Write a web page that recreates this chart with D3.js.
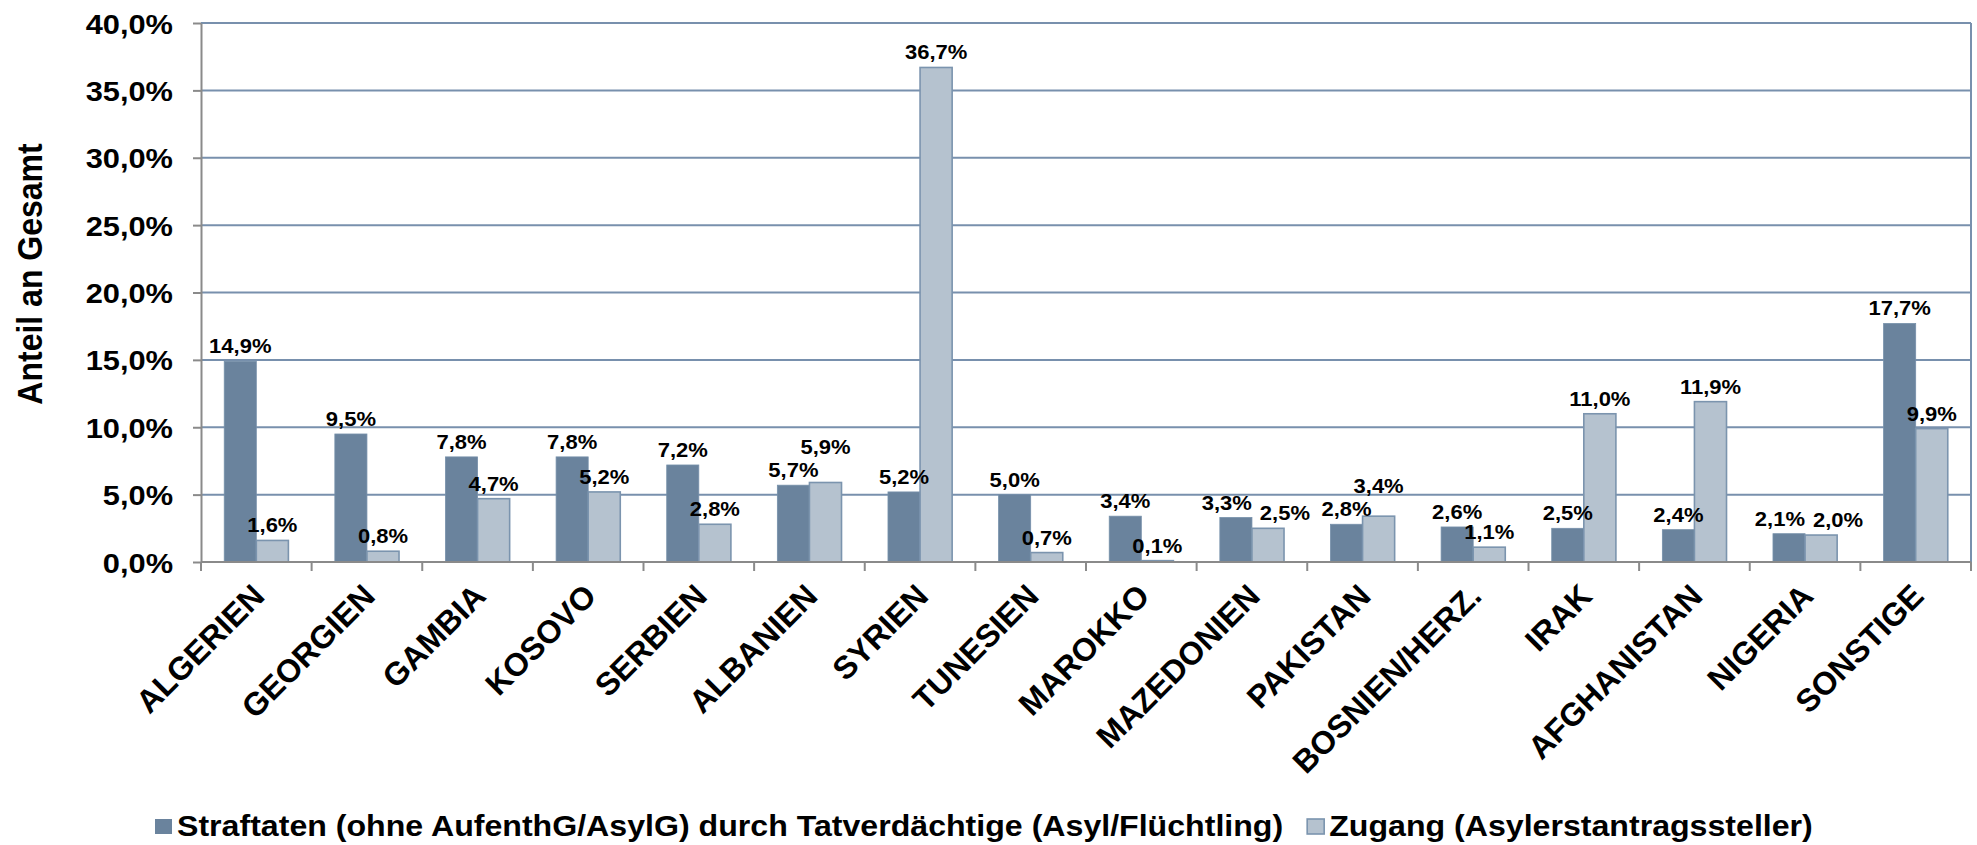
<!DOCTYPE html>
<html>
<head>
<meta charset="utf-8">
<script src="https://cdn.jsdelivr.net/npm/d3@7"></script>
<style>
	body { margin: 0; background: #fff; }
	text { font-family: "Liberation Sans", Arial, sans-serif; font-weight: bold; fill: #000; }
</style>
</head>
<body>
<div id="chart"></div>
<script>
// chart data
var categories = ["ALGERIEN", "GEORGIEN", "GAMBIA", "KOSOVO", "SERBIEN", "ALBANIEN", "SYRIEN", "TUNESIEN",
	"MAROKKO", "MAZEDONIEN", "PAKISTAN", "BOSNIEN/HERZ.", "IRAK", "AFGHANISTAN", "NIGERIA", "SONSTIGE"];
var straftaten = [14.9, 9.5, 7.8, 7.8, 7.2, 5.7, 5.2, 5.0, 3.4, 3.3, 2.8, 2.6, 2.5, 2.4, 2.1, 17.7];
var zugang = [1.6, 0.8, 4.7, 5.2, 2.8, 5.9, 36.7, 0.7, 0.1, 2.5, 3.4, 1.1, 11.0, 11.9, 2.0, 9.9];
var yTickValues = [0, 5, 10, 15, 20, 25, 30, 35, 40];
var seriesNames = ["Straftaten (ohne AufenthG/AsylG) durch Tatverdächtige (Asyl/Flüchtling)",
	"Zugang (Asylerstantragssteller)"];
var yTitle = "Anteil an Gesamt";

barchart();

function barchart() {
	var svg = d3.select("#chart")
		.append("svg")
		.attr("width", 1977)
		.attr("height", 845);
	var margin = {top: 23, right: 6, bottom: 283, left: 201},
		width = +svg.attr("width") - margin.left - margin.right,
		height = +svg.attr("height") - margin.top - margin.bottom,
		g = svg.append("g").attr("transform", "translate(" + margin.left + "," + margin.top + ")");

	// the original text is a little wider than the font, stretch it
	var SX = 1.1;
	var colors = ["#6a839d", "#b5c2cf"];
	var gridColor = "#7890ad",
		axisColor = "#8a8a8a";
	var series = [straftaten, zugang];
	var pct = function(v) { return d3.format(".1f")(v).replace(".", ",") + "%"; };

	// scales
	var x0 = d3.scaleBand().domain(categories).range([0, width]).paddingInner(0).paddingOuter(0);
	var x1 = d3.scaleBand().domain([0, 1])
		.range([x0.bandwidth() * 0.21, x0.bandwidth() * 0.79]);
	var y = d3.scaleLinear().domain([0, 40]).range([height, 0]);

	// gridlines
	g.selectAll(".grid")
		.data(yTickValues.filter(function(d) { return d > 0; }))
		.enter().append("line")
		.attr("class", "grid")
		.attr("x1", 0)
		.attr("x2", width)
		.attr("y1", function(d) { return y(d); })
		.attr("y2", function(d) { return y(d); })
		.style("stroke", gridColor)
		.style("stroke-width", 2);

	// right border of plot area
	g.append("line")
		.attr("x1", width).attr("x2", width)
		.attr("y1", y(40)).attr("y2", y(0))
		.style("stroke", gridColor)
		.style("stroke-width", 2);

	// bars
	var groups = g.selectAll(".group")
		.data(categories)
		.enter().append("g")
		.attr("class", "group")
		.attr("transform", function(d) { return "translate(" + x0(d) + ",0)"; });

	groups.selectAll("rect")
		.data(function(d, i) { return series.map(function(s, k) { return {k: k, v: s[i]}; }); })
		.enter().append("rect")
		.attr("x", function(d) { return x1(d.k); })
		.attr("width", x1.bandwidth())
		.attr("y", function(d) { return y(d.v); })
		.attr("height", function(d) { return y(0) - y(d.v); })
		.style("fill", function(d) { return colors[d.k]; })
		.style("stroke", function(d) { return d.k == 1 ? "#7b94ae" : "#7690aa"; })
		.style("stroke-width", function(d) { return d.k == 1 ? 1.6 : 0.8; });

	// y axis
	var yAxis = d3.axisLeft(y)
		.tickValues(yTickValues)
		.tickSize(8)
		.tickSizeOuter(0)
		.tickFormat(pct);

	var yg = g.append("g")
		.attr("class", "y axis")
		.call(yAxis);
	yg.attr("font-family", null).attr("font-size", null);
	yg.select(".domain").style("stroke", axisColor).style("stroke-width", 2);
	yg.selectAll(".tick line").style("stroke", axisColor).style("stroke-width", 2);
	yg.selectAll(".tick text")
		.attr("x", -28 / SX)
		.attr("dy", "0.36em")
		.attr("transform", "scale(" + SX + ",1)")
		.style("font-size", "28px");

	// x axis: line plus ticks at the category boundaries
	g.append("line")
		.attr("x1", 0).attr("x2", width)
		.attr("y1", height).attr("y2", height)
		.style("stroke", axisColor)
		.style("stroke-width", 2);

	g.selectAll(".xtick")
		.data(categories.map(function(c) { return x0(c); }).concat([x0.range()[1]]))
		.enter().append("line")
		.attr("class", "xtick")
		.attr("x1", function(d) { return d; })
		.attr("x2", function(d) { return d; })
		.attr("y1", height)
		.attr("y2", height + 9)
		.style("stroke", axisColor)
		.style("stroke-width", 2);

	// x labels, rotated
	g.selectAll(".xlabel")
		.data(categories)
		.enter().append("text")
		.attr("class", "xlabel")
		.attr("transform", function(d) {
			return "translate(" + (x0(d) + x0.bandwidth() / 2 + 10) + "," + (height + 36) + ") rotate(-45)";
		})
		.style("text-anchor", "end")
		.style("font-size", "32px")
		.text(function(d) { return d; });

	// y axis title
	svg.append("text")
		.attr("transform", "translate(42,274) scale(" + SX + ",1) rotate(-90)")
		.style("text-anchor", "middle")
		.style("font-size", "32px")
		.text(yTitle);

	// data labels
	var labelData = [];
	categories.forEach(function(c, i) {
		series.forEach(function(s, k) {
			labelData.push({i: i, k: k, v: s[i],
				x: x0(c) + x1(k) + x1.bandwidth() / 2,
				y: y(s[i]) - 8});
		});
	});

	var labels = g.selectAll(".bar-label")
		.data(labelData)
		.enter().append("text")
		.attr("class", "bar-label")
		.style("text-anchor", "middle")
		.style("font-size", "20px")
		.text(function(d) { return pct(d.v); });

	labels.each(function(d) { d.w = this.getComputedTextLength() * SX; });

	// keep neighbouring labels from running into each other
	var capH = 20 * 0.72;
	categories.forEach(function(c, i) {
		var a = labelData[2 * i], b = labelData[2 * i + 1];
		var overlapX = (a.x + a.w / 2 + 8) - (b.x - b.w / 2);
		if (overlapX > 0 && Math.abs(a.y - b.y) < capH + 4) {
			if (b.v > a.v) {
				b.y = a.y - capH - 9;
			} else {
				a.x -= overlapX * 0.35;
				b.x += overlapX * 0.65;
			}
		}
	});

	labels.attr("transform", function(d) {
		return "translate(" + d.x + "," + d.y + ") scale(" + SX + ",1)";
	});

	// legend
	var legend = svg.append("g").attr("class", "legend");
	var lx = 155;
	seriesNames.forEach(function(name, k) {
		legend.append("rect")
			.attr("x", lx)
			.attr("y", 819)
			.attr("width", 17)
			.attr("height", 15)
			.style("fill", colors[k])
			.style("stroke", k == 1 ? "#7b94ae" : "none")
			.style("stroke-width", 1.6);
		var t = legend.append("text")
			.attr("transform", "translate(" + (lx + 22) + ",836) scale(" + SX + ",1)")
			.style("font-size", "29.2px")
			.text(name);
		lx = lx + 22 + t.node().getComputedTextLength() * SX + 24;
	});
}
</script>
</body>
</html>
